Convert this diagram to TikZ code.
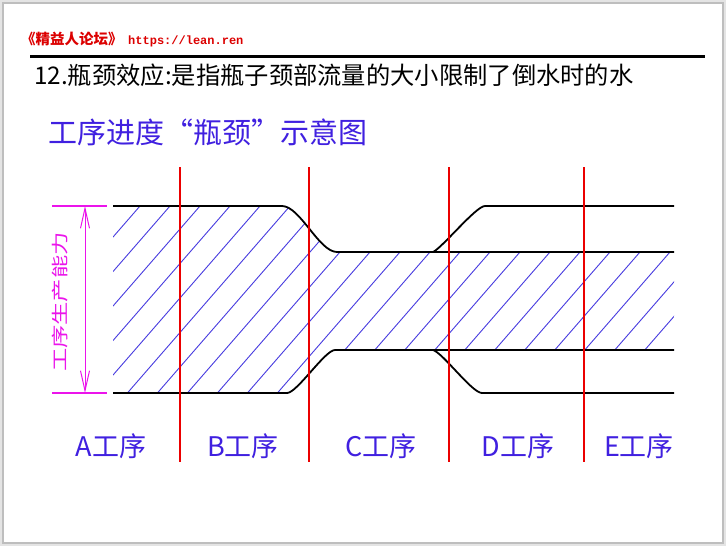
\documentclass[tikz,border=0pt]{standalone}
\usepackage{fontspec}
\usepackage{graphicx}
\usetikzlibrary{arrows.meta}
\newfontfamily\cjk{Noto Sans CJK SC}
\newfontfamily\urlfont{Liberation Mono}
\newcommand{\fs}[1]{\fontsize{#1}{#1}\selectfont}
\begin{document}
\begin{tikzpicture}[x=1pt, y=-1pt,
  every node/.style={inner sep=0pt, font=\cjk},
  outline/.style={line width=1.8, line join=round},
  stepline/.style={stepred, line width=1.4},
  steplabel/.style={labelblue, font=\cjk\fs{27}},
  hatchline/.style={hatchblue, line width=0.9},
  dimline/.style={dimmagenta, line width=1.2}]
\definecolor{slidegray}{RGB}{228,228,228}
\definecolor{framegray}{RGB}{190,190,190}
\definecolor{headred}{RGB}{220,0,0}
\definecolor{labelblue}{RGB}{64,32,224}
\definecolor{hatchblue}{RGB}{72,60,224}
\definecolor{dimmagenta}{RGB}{235,20,235}
\definecolor{stepred}{RGB}{235,0,0}
% Slide
\fill[slidegray] (0,0) rectangle (726,546);
\useasboundingbox (0,0) rectangle (726,546);
\filldraw[fill=white, draw=framegray, line width=1.5] (3,3) rectangle (723,543);
% Header
\node[anchor=base west, headred, font=\cjk\bfseries\fs{14.5}] (forum) at (21,44) {《精益人论坛》};
\node[anchor=base west, headred, font=\urlfont\bfseries\fs{12}] (url) at (128,44) {https://lean.ren};
\draw[line width=3] (30,56) -- (705,56);
\node[anchor=west, font=\cjk\fs{24.3}] (title) at (34,75) {12.瓶颈效应:是指瓶子颈部流量的大小限制了倒水时的水};
\node[anchor=west, labelblue, font=\cjk\fs{29}] (chart) at (48,132)
  {工序进度\makebox[1em][r]{“}瓶颈\makebox[1em][l]{”}示意图};
% Hatched flow
\begin{scope}
\clip (113,206) -- (282,206) .. controls (300,206) and (319,252) .. (337,252) -- (674,252)
  -- (674,350) -- (335,350) .. controls (325,350) and (297,393) .. (287,393) -- (113,393) -- cycle;
\foreach \x in {70,100,...,760}
  \draw[hatchline] ({\x-130},401.5) -- ++(200,-230);
\end{scope}
% Bottle outline
\draw[outline] (113,206) -- (282,206) .. controls (300,206) and (319,252) .. (337,252) -- (674,252);
\draw[outline] (113,393) -- (287,393) .. controls (297,393) and (325,350) .. (335,350) -- (674,350);
\draw[outline] (433,252) .. controls (442,248) and (476,206) .. (485,206) -- (674,206);
\draw[outline] (433,350) .. controls (443,353) and (472,393) .. (482,393) -- (674,393);
% Process borders
\foreach \x in {180,309,449,584}
  \draw[stepline] (\x,167) -- (\x,462);
\foreach \name/\x in {A/111,B/243,C/381,D/518,E/639}
  \node[steplabel] (label\name) at (\x,446) {\name 工序};
% Capacity
\coordinate (dimtop) at (85,206);
\coordinate (dimbot) at (85,393);
\draw[dimline] (52,206) -- (107,206);
\draw[dimline] (52,393) -- (107,393);
\draw[dimline, line width=1, {Straight Barb[length=20,width=9]}-{Straight Barb[length=20,width=9]}] (dimtop) -- (dimbot);
\node[dimmagenta, rotate=90, font=\cjk\fs{17}] (capacity) at (60,302) {\scalebox{1.37}[1]{工序生产能力}};
\end{tikzpicture}
\end{document}
